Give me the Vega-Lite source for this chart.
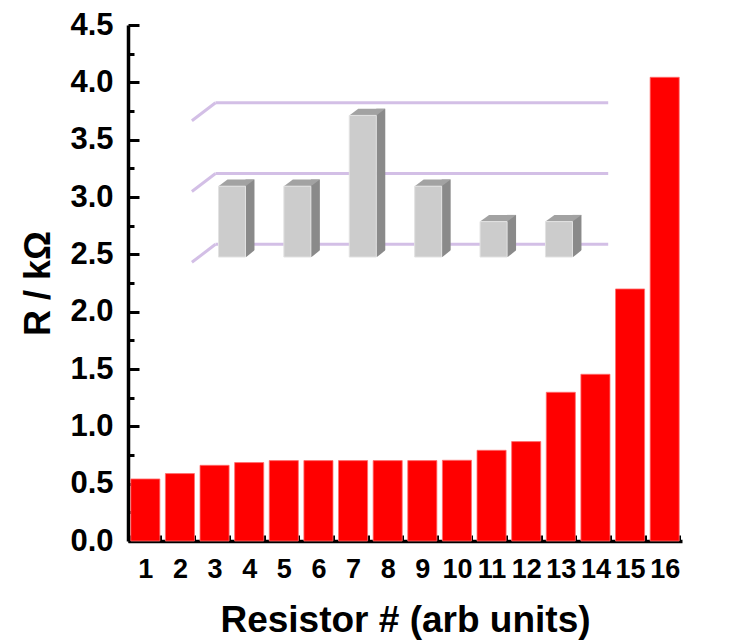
{
  "$schema": "https://vega.github.io/schema/vega-lite/v6.json",
  "width": 554,
  "height": 516,
  "autosize": "none",
  "padding": {"left": 128, "top": 25, "right": 50, "bottom": 102},
  "config": {"view": {"stroke": null}, "font": "Liberation Sans"},
  "datasets": {
    "main": [
      {"resistor": "1", "R": 0.541},
      {"resistor": "2", "R": 0.588},
      {"resistor": "3", "R": 0.66},
      {"resistor": "4", "R": 0.684},
      {"resistor": "5", "R": 0.701},
      {"resistor": "6", "R": 0.701},
      {"resistor": "7", "R": 0.701},
      {"resistor": "8", "R": 0.701},
      {"resistor": "9", "R": 0.701},
      {"resistor": "10", "R": 0.704},
      {"resistor": "11", "R": 0.791},
      {"resistor": "12", "R": 0.867},
      {"resistor": "13", "R": 1.297},
      {"resistor": "14", "R": 1.454},
      {"resistor": "15", "R": 2.198},
      {"resistor": "16", "R": 4.044}
    ],
    "inset": [
      {"pos": 1, "h": 1},
      {"pos": 2, "h": 1},
      {"pos": 3, "h": 2},
      {"pos": 4, "h": 1},
      {"pos": 5, "h": 0.5},
      {"pos": 6, "h": 0.5}
    ],
    "grid": [{"level": 0}, {"level": 1}, {"level": 2}]
  },
  "layer": [
    {
      "data": {"name": "main"},
      "mark": {"type": "bar", "color": "#ff0000", "stroke": "#ff7070", "strokeWidth": 0.8},
      "encoding": {
        "x": {
          "field": "resistor", "type": "ordinal", "sort": null,
          "scale": {"paddingInner": 0.16, "paddingOuter": 0.08},
          "axis": {
            "title": "Resistor # (arb units)",
            "labelAngle": 0,
            "labelFont": "Liberation Sans", "labelFontWeight": "bold", "labelFontSize": 27, "labelColor": "#000000",
            "labelPadding": 21,
            "tickBand": "extent", "tickSize": -6, "tickWidth": 3, "tickColor": "#000000",
            "domainColor": "#000000", "domainWidth": 3.5,
            "titleFont": "Liberation Sans", "titleFontWeight": "bold", "titleFontSize": 37, "titleColor": "#000000",
            "titlePadding": 20,
            "grid": false
          }
        },
        "y": {
          "field": "R", "type": "quantitative",
          "scale": {"domain": [0, 4.5], "nice": false, "zero": true},
          "axis": {
            "orient": "left",
            "title": "R / kΩ",
            "values": [0, 0.5, 1, 1.5, 2, 2.5, 3, 3.5, 4, 4.5],
            "format": ".1f",
            "labelFont": "Liberation Sans", "labelFontWeight": "bold", "labelFontSize": 31, "labelColor": "#000000",
            "labelPadding": 26, "labelFlush": false, "labelOverlap": false,
            "tickSize": -11, "tickWidth": 3, "tickColor": "#000000",
            "domainColor": "#000000", "domainWidth": 3.5,
            "titleFont": "Liberation Sans", "titleFontWeight": "bold", "titleFontSize": 36, "titleColor": "#000000",
            "titlePadding": 12,
            "grid": false
          }
        }
      }
    },
    {
      "data": {"name": "main"},
      "mark": {"type": "rule", "opacity": 0},
      "encoding": {
        "y": {
          "field": "R", "type": "quantitative",
          "scale": {"domain": [0, 4.5], "nice": false, "zero": true},
          "axis": {
            "orient": "left",
            "title": null,
            "values": [0.25, 0.75, 1.25, 1.75, 2.25, 2.75, 3.25, 3.75, 4.25],
            "labels": false, "domain": false, "grid": false,
            "tickSize": -6, "tickWidth": 3, "tickColor": "#000000"
          }
        }
      }
    },
    {
      "layer": [
        {
          "data": {"name": "grid"},
          "mark": {"type": "rule", "stroke": "#d3bfe6", "strokeWidth": 3, "yOffset": -12.7},
          "encoding": {
            "x": {"datum": 0.748, "type": "quantitative", "scale": {"domain": [-0.5135, 7.805], "nice": false, "zero": false}, "axis": null},
            "x2": {"datum": 6.753},
            "y": {"field": "level", "type": "quantitative", "scale": {"domain": [-4.011, 3.277], "nice": false, "zero": false}, "axis": null}
          }
        },
        {
          "data": {"name": "grid"},
          "mark": {"type": "rule", "stroke": "#d3bfe6", "strokeWidth": 3, "yOffset": 5.3, "y2Offset": -12.7},
          "encoding": {
            "x": {"datum": 0.387, "type": "quantitative", "scale": {"domain": [-0.5135, 7.805], "nice": false, "zero": false}, "axis": null},
            "x2": {"datum": 0.748},
            "y": {"field": "level", "type": "quantitative", "scale": {"domain": [-4.011, 3.277], "nice": false, "zero": false}, "axis": null},
            "y2": {"field": "level"}
          }
        },
        {
          "data": {"name": "inset"},
          "mark": {"type": "bar", "fill": "#8a8a8a", "width": 9, "xOffset": 18, "yOffset": -6.7},
          "encoding": {
            "x": {"field": "pos", "type": "quantitative", "scale": {"domain": [-0.5135, 7.805], "nice": false, "zero": false}, "axis": null},
            "y": {"field": "h", "type": "quantitative", "scale": {"domain": [-4.011, 3.277], "nice": false, "zero": false}, "axis": null},
            "y2": {"datum": 0}
          }
        },
        {
          "data": {"name": "inset"},
          "mark": {"type": "point", "shape": "M13.5,0.6 L23.5,0.6 L23.5,-7.4 Z", "size": 4, "filled": true, "fill": "#ffffff", "strokeWidth": 0, "opacity": 1},
          "encoding": {
            "x": {"field": "pos", "type": "quantitative", "scale": {"domain": [-0.5135, 7.805], "nice": false, "zero": false}, "axis": null},
            "y": {"datum": 0, "type": "quantitative", "scale": {"domain": [-4.011, 3.277], "nice": false, "zero": false}, "axis": null}
          }
        },
        {
          "data": {"name": "inset"},
          "mark": {"type": "point", "shape": "M-13.5,0 L13.5,0 L22.5,-6.7 L-4.5,-6.7 Z", "size": 4, "filled": true, "fill": "#a2a2a2", "strokeWidth": 0, "opacity": 1},
          "encoding": {
            "x": {"field": "pos", "type": "quantitative", "scale": {"domain": [-0.5135, 7.805], "nice": false, "zero": false}, "axis": null},
            "y": {"field": "h", "type": "quantitative", "scale": {"domain": [-4.011, 3.277], "nice": false, "zero": false}, "axis": null}
          }
        },
        {
          "data": {"name": "inset"},
          "mark": {"type": "bar", "fill": "#cccccc", "stroke": "#e2e2e2", "strokeWidth": 1, "width": 27},
          "encoding": {
            "x": {"field": "pos", "type": "quantitative", "scale": {"domain": [-0.5135, 7.805], "nice": false, "zero": false}, "axis": null},
            "y": {"field": "h", "type": "quantitative", "scale": {"domain": [-4.011, 3.277], "nice": false, "zero": false}, "axis": null},
            "y2": {"datum": 0}
          }
        }
      ]
    }
  ],
  "resolve": {"scale": {"x": "independent", "y": "independent"}, "axis": {"x": "independent", "y": "independent"}}
}
